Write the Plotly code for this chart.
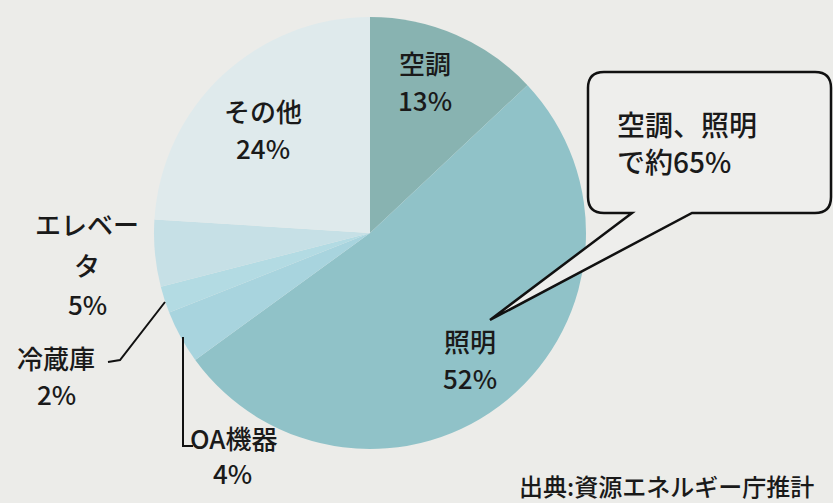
import plotly.graph_objects as go

W, H = 833, 503

# pie data (clockwise from 12 o'clock)
labels = ["空調", "照明", "OA機器", "冷蔵庫", "エレベータ", "その他"]
shares = [13, 52, 4, 2, 5, 24]
colors = ["#88b3b1", "#90c2c8", "#a8d4de", "#b3dbe3", "#c6e0e6", "#dfeaec"]

# text shown on the chart
label_text = ["空調<br>13%", "照明<br>52%", "OA機器<br>4%", "冷蔵庫<br>2%", "エレベー<br>タ<br>5%", "その他<br>24%"]
callout_text = "空調、照明<br>で約65%"
source_text = "出典:資源エネルギー庁推計"

FONT = "Noto Sans CJK JP, sans-serif"
BG = "#ecece9"


def px(x, y):
    # pixel position -> paper coords
    return x / W, 1 - y / H


fig = go.Figure(go.Pie(
    labels=labels, values=shares, sort=False, direction="clockwise", rotation=0,
    marker=dict(colors=colors, line=dict(width=0)),
    textinfo="none", hoverinfo="label+percent", showlegend=False,
    domain=dict(x=[154 / W, 586 / W], y=[1 - 449 / H, 1 - 17 / H]),
))

ann = []
def add_text(txt, x, y, size=26, xanchor="center"):
    xx, yy = px(x, y)
    ann.append(dict(text=txt, x=xx, y=yy, xref="paper", yref="paper", showarrow=False,
                    xanchor=xanchor, yanchor="middle",
                    font=dict(family=FONT, size=size, color="#1a1a1a", weight=500)))

def add_lines(txt, x, ys, size=26, xanchor="center"):
    for line, y in zip(txt.split("<br>"), ys):
        add_text(line, x, y, size, xanchor)

add_lines(label_text[0], 425, [63, 100])
add_lines(label_text[5], 263, [110, 147])
add_lines(label_text[1], 470, [340, 377])
add_lines(label_text[4], 87, [223, 264, 303])
add_lines(label_text[3], 56, [357, 393])
add_text(label_text[2].split("<br>")[0], 188, 437, xanchor="left")
add_text(label_text[2].split("<br>")[1], 232, 472)
add_lines(callout_text, 615, [124, 161], size=28, xanchor="left")
add_text(source_text, 666, 485, size=24)

shapes = []
def seg(pts, width=2):
    path = "M " + " L ".join(f"{px(x, y)[0]},{px(x, y)[1]}" for x, y in pts)
    shapes.append(dict(type="path", path=path, xref="paper", yref="paper",
                       line=dict(color="#111111", width=width)))

# leader lines
seg([(165, 302), (120, 360), (108, 362)])
seg([(183, 337), (183, 446), (193, 446)])

# speech bubble with tail
r = 16
bx0, by0, bx1, by1 = 588, 72, 831, 213
def P(x, y):
    a, b = px(x, y)
    return f"{a},{b}"
path = f"M {P(bx0 + r, by0)} L {P(bx1 - r, by0)}"
path += f" Q {P(bx1, by0)} {P(bx1, by0 + r)}"
path += f" L {P(bx1, by1 - r)}"
path += f" Q {P(bx1, by1)} {P(bx1 - r, by1)}"
path += f" L {P(692, by1)} L {P(490, 320)} L {P(632, by1)}"
path += f" L {P(bx0 + r, by1)}"
path += f" Q {P(bx0, by1)} {P(bx0, by1 - r)}"
path += f" L {P(bx0, by0 + r)}"
path += f" Q {P(bx0, by0)} {P(bx0 + r, by0)} Z"
shapes.append(dict(type="path", path=path, xref="paper", yref="paper",
                   fillcolor="#eeeeec", line=dict(color="#111111", width=2.5), layer="above"))

fig.update_layout(
    width=W, height=H, margin=dict(l=0, r=0, t=0, b=0),
    paper_bgcolor=BG, plot_bgcolor=BG,
    annotations=ann, shapes=shapes,
)

fig.write_html("out.html", config={"displayModeBar": False},
               post_script="document.body.style.margin='0';document.body.style.padding='0';")
